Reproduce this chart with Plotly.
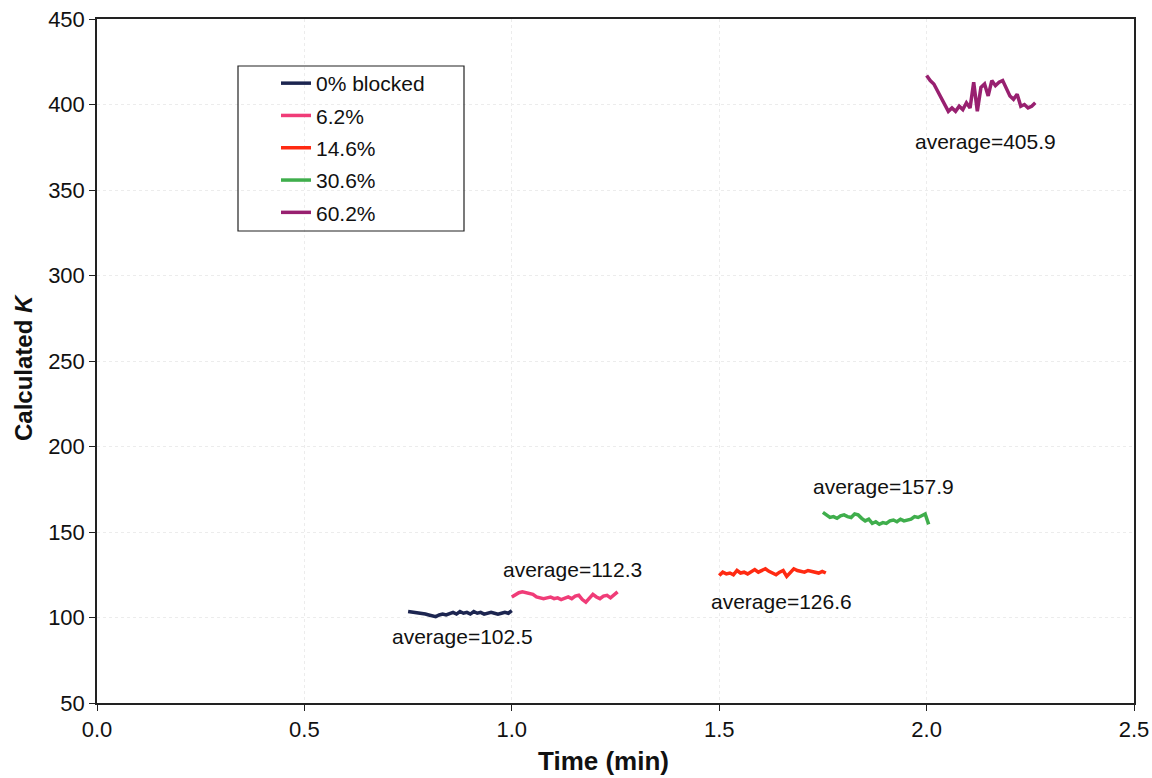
import numpy as np
import plotly.graph_objects as go

# ---- data ----
series_names = ["0% blocked", "6.2%", "14.6%", "30.6%", "60.2%"]
series_colors = ["#1c2550", "#f03c78", "#ff2a12", "#3fae4c", "#982070"]

x_start = [0.75, 1.0, 1.5, 1.75, 2.0]
x_end = [1.0, 1.255, 1.757, 2.005, 2.262]

k_0 = [103.5, 103.2, 102.8, 103.0, 102.5, 102.0, 101.5, 101.0, 100.5, 101.5, 102.0,
       101.5, 102.5, 103.0, 102.0, 103.5, 102.5, 103.0, 102.0, 103.5, 102.5, 103.0,
       102.0, 102.5, 103.0, 102.5, 102.0, 102.5, 103.0, 102.5, 104.0]
k_6 = [112.0, 113.5, 114.5, 115.0, 114.5, 114.0, 113.5, 112.0, 111.5, 111.0, 111.5,
       112.0, 111.0, 111.5, 110.5, 111.0, 112.0, 111.0, 112.5, 113.0, 110.5, 109.0,
       111.5, 113.5, 112.0, 111.0, 112.5, 113.0, 111.5, 113.0, 115.0]
k_14 = [124.5, 126.5, 125.5, 126.0, 125.0, 127.5, 126.0, 126.5, 125.5, 127.0, 128.0,
        126.5, 127.5, 128.5, 127.0, 126.0, 125.0, 126.5, 127.5, 124.0, 126.5, 128.5,
        127.5, 127.0, 126.5, 127.5, 127.0, 126.5, 126.0, 127.0, 126.0]
k_30 = [161.5, 160.0, 158.5, 159.0, 158.0, 159.5, 160.0, 159.0, 158.5, 160.5, 160.0,
        158.0, 156.5, 157.5, 155.0, 156.0, 154.5, 155.5, 155.0, 156.5, 157.0, 156.0,
        157.5, 156.5, 157.0, 157.5, 159.0, 158.5, 159.5, 160.5, 154.5]
k_60 = [417, 414, 412, 408, 405, 401, 396, 398, 396, 399, 397, 401, 398, 413, 396,
        410, 412, 405, 414, 411, 413, 414, 410, 405, 403, 406, 399, 400, 398, 399, 401]
series_values = [k_0, k_6, k_14, k_30, k_60]

avg_labels = ["average=102.5", "average=112.3", "average=126.6", "average=157.9", "average=405.9"]
avg_x = [0.881, 1.147, 1.65, 1.895, 2.141]
avg_y = [88.6, 127.8, 109.6, 176.9, 378.6]

x_ticks = [0.0, 0.5, 1.0, 1.5, 2.0, 2.5]
y_ticks = [50, 100, 150, 200, 250, 300, 350, 400, 450]

FONT = "Liberation Sans, Arial, sans-serif"
W, H = 1152, 778
L, R, T, B = 97, 18, 19, 75
PW, PH = W - L - R, H - T - B


def px_x(p):
    return (p - L) / PW


def px_y(p):
    return (H - B - p) / PH


fig = go.Figure()
for i, (name, col, vals) in enumerate(zip(series_names, series_colors, series_values)):
    xs = np.linspace(x_start[i], x_end[i], len(vals))
    fig.add_trace(go.Scatter(
        x=xs, y=vals, mode="lines", name=name,
        line=dict(color=col, width=3.5),
        legendgroup=f"g{i}",
    ))

for t, ax, ay in zip(avg_labels, avg_x, avg_y):
    fig.add_annotation(x=ax, y=ay, text=t, showarrow=False,
                       xanchor="center", yanchor="middle",
                       font=dict(family=FONT, size=21, color="#111111"))

# axis titles
fig.add_annotation(xref="paper", yref="paper", x=px_x(603), y=px_y(761),
                   xanchor="center", yanchor="middle",
                   text="<b>Time (min)</b>", showarrow=False,
                   font=dict(family=FONT, size=26, color="#111111"))
fig.add_annotation(xref="paper", yref="paper", x=px_x(23), y=px_y(368),
                   xanchor="center", yanchor="middle",
                   text="<b>Calculated <i>K</i></b>", showarrow=False, textangle=-90,
                   font=dict(family=FONT, size=24, color="#111111"))

# legend box
fig.add_shape(type="rect", xref="paper", yref="paper",
              x0=px_x(238), x1=px_x(464), y0=px_y(231), y1=px_y(66),
              line=dict(color="#222222", width=1.2), fillcolor="rgba(0,0,0,0)")

axis_common = dict(
    showline=True, linecolor="#222222", linewidth=1.5, mirror=True,
    ticks="outside", ticklen=6, tickcolor="#222222", tickwidth=1.2,
    tickfont=dict(family=FONT, size=22, color="#111111"),
    showgrid=True, gridcolor="#ececec", griddash="dot", gridwidth=1,
    zeroline=False, automargin=False,
)

fig.update_layout(
    width=W, height=H,
    paper_bgcolor="white", plot_bgcolor="white",
    margin=dict(l=L, r=R, t=T, b=B),
    font=dict(family=FONT, color="#111111"),
    xaxis=dict(range=[0, 2.5], tickvals=x_ticks, tickformat=".1f", **axis_common),
    yaxis=dict(range=[50, 450], tickvals=y_ticks, **axis_common),
    legend=dict(x=px_x(276), y=px_y(63), xanchor="left", yanchor="top",
                bgcolor="rgba(0,0,0,0)", borderwidth=0,
                font=dict(family=FONT, size=21, color="#111111"),
                tracegroupgap=2, itemwidth=30),
    showlegend=True,
)

fig.write_html("out.html", config={"displayModeBar": False},
               post_script="document.body.style.margin='0';document.body.style.overflow='hidden';")
